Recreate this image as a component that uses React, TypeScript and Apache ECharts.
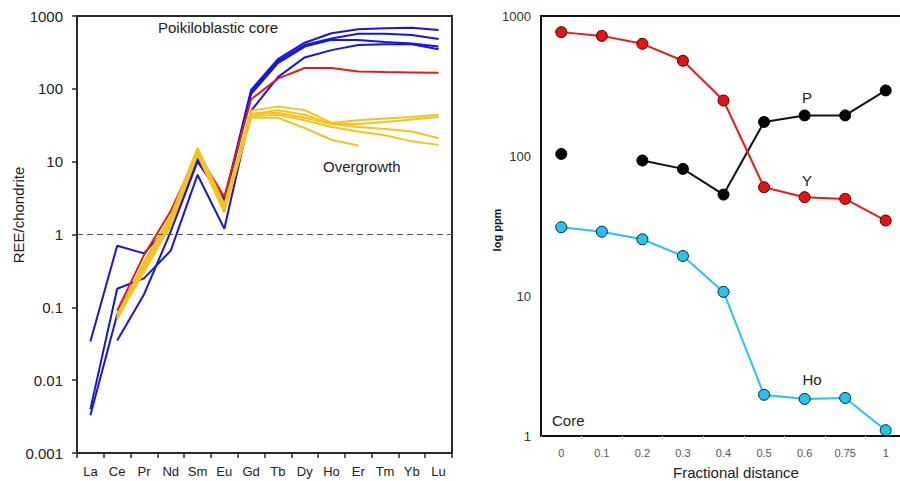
import React, { useEffect, useRef } from "react";
import * as echarts from "echarts";

const reeCategories = ["La", "Ce", "Pr", "Nd", "Sm", "Eu", "Gd", "Tb", "Dy", "Ho", "Er", "Tm", "Yb", "Lu"];

const blue1 = [0.034, 0.7, 0.55, 1.4, 11, 3.0, 97, 255, 430, 580, 660, 680, 690, 643];
const blue2 = [0.004, 0.18, 0.25, 0.6, 6.6, 1.2, 50, 145, 270, 340, 400, 410, 410, 350];
const blue3 = [0.0033, 0.08, 0.4, 1.3, 10.5, 2.8, 90, 240, 400, 490, 570, 570, 550, 484];
const blue4 = [null, 0.035, 0.15, 1.1, 10, 2.9, 85, 225, 380, 470, 470, 440, 420, 380];
const redRee = [null, 0.09, 0.52, 2.1, 13, 3.3, 72, 138, 193, 193, 173, 170, 168, 166];
const yellow1 = [null, 0.075, 0.42, 1.8, 15.5, 2.6, 50, 57, 51, 34, 37, 39, 41, 44];
const yellow2 = [null, 0.07, 0.38, 1.6, 14.5, 2.4, 45, 51, 44, 33, 33, 35, 38, 41];
const yellow3 = [null, 0.068, 0.34, 1.5, 14, 2.2, 45, 47, 40, 33, 30, 28, 26, 21];
const yellow4 = [null, 0.072, 0.3, 1.4, 13, 2.1, 42, 44, 37, 30, 26, 23, 19, 17];
const yellow5 = [null, 0.08, 0.36, 1.3, 12.5, 2.0, 40, 40, 29, 20, 16.7, null, null, null];

const leftTickLabels = ["0.001", "0.01", "0.1", "1", "10", "100", "1000"];

const distanceCategories = ["0", "0.1", "0.2", "0.3", "0.4", "0.5", "0.6", "0.75", "1"];
const yValues = [767, 721, 633, 479, 249, 59.8, 50.8, 49.4, 34.6];
const pValues = [103.5, null, 92.8, 80.9, 53, 175, 195, 195, 294];
const hoValues = [31, 28.8, 25.4, 19.3, 10.7, 1.97, 1.84, 1.87, 1.1];

const rightTickLabels = ["1", "10", "100", "1000"];

const FONT = "'Liberation Sans', Arial, Helvetica, sans-serif";
const BLUE = "#1616dc";
const RED = "#e31b1b";
const GOLD = "#f7c21d";

export default function App() {
  const ref = useRef<HTMLDivElement>(null);
  useEffect(() => {
    document.body.style.margin = "0";
    document.body.style.overflow = "hidden";
    const chart = echarts.init(ref.current!, undefined, { renderer: "svg" });

    const lineSeries = (data: (number | null)[], color: string, extra: any = {}) => ({
      type: "line",
      xAxisIndex: 0,
      yAxisIndex: 0,
      data,
      showSymbol: false,
      symbol: "none",
      lineStyle: { color, width: 2 },
      itemStyle: { color },
      silent: true,
      ...extra,
    });

    const logLabel = (labels: string[], offset: number) => (v: number) => {
      const i = Math.round(Math.log10(v)) + offset;
      return labels[i] ?? "";
    };

    const option: any = {
      animation: false,
      textStyle: { fontFamily: FONT },
      grid: [
        { left: 77, top: 16, width: 375, height: 437, show: true, borderColor: "#2a2a2a", borderWidth: 2 },
        { left: 541, top: 16, width: 365, height: 420, show: true, borderColor: "#111", borderWidth: 2 },
      ],
      xAxis: [
        {
          gridIndex: 0,
          type: "category",
          data: reeCategories,
          boundaryGap: true,
          axisLine: { lineStyle: { color: "#2a2a2a", width: 2 } },
          axisTick: { show: true, length: 5, lineStyle: { color: "#2a2a2a", width: 1.5 } },
          axisLabel: { color: "#222", fontSize: 13, margin: 12, fontFamily: FONT, interval: 0 },
          splitLine: { show: false },
        },
        {
          gridIndex: 1,
          type: "category",
          data: distanceCategories,
          boundaryGap: true,
          axisLine: { lineStyle: { color: "#111", width: 2 } },
          axisTick: { show: true, length: 3, lineStyle: { color: "#ddd", width: 1 } },
          axisLabel: { color: "#555", fontSize: 11, margin: 11, fontFamily: FONT, interval: 0 },
          splitLine: { show: false },
        },
      ],
      yAxis: [
        {
          gridIndex: 0,
          type: "log",
          logBase: 10,
          min: 0.001,
          max: 1000,
          axisLine: { show: true, lineStyle: { color: "#2a2a2a", width: 2 } },
          axisTick: { show: true, length: 5, lineStyle: { color: "#2a2a2a", width: 1.5 } },
          axisLabel: { color: "#222", fontSize: 15, margin: 14, fontFamily: FONT, formatter: logLabel(leftTickLabels, 3) },
          splitLine: { show: false },
          minorTick: { show: false },
        },
        {
          gridIndex: 1,
          type: "log",
          logBase: 10,
          min: 1,
          max: 1000,
          axisLine: { show: true, lineStyle: { color: "#111", width: 2 } },
          axisTick: { show: false },
          axisLabel: { color: "#333", fontSize: 13, margin: 10, fontFamily: FONT, formatter: logLabel(rightTickLabels, 0) },
          splitLine: { show: false },
        },
      ],
      series: [
        lineSeries(blue1, BLUE, {
          markLine: {
            silent: true,
            symbol: "none",
            label: { show: false },
            lineStyle: { color: "#555", width: 1, type: [6, 4] },
            data: [{ yAxis: 1 }],
          },
        }),
        lineSeries(blue2, BLUE),
        lineSeries(blue3, BLUE),
        lineSeries(blue4, BLUE),
        lineSeries(redRee, RED),
        lineSeries(yellow1, GOLD),
        lineSeries(yellow2, GOLD),
        lineSeries(yellow3, GOLD),
        lineSeries(yellow4, GOLD),
        lineSeries(yellow5, GOLD),
        {
          type: "line",
          xAxisIndex: 1,
          yAxisIndex: 1,
          data: hoValues,
          symbol: "circle",
          symbolSize: 11,
          lineStyle: { color: "#26c3ee", width: 2 },
          itemStyle: { color: "#22c4f0", borderColor: "#1a1a1a", borderWidth: 1 },
        },
        {
          type: "line",
          xAxisIndex: 1,
          yAxisIndex: 1,
          data: pValues,
          connectNulls: false,
          symbol: "circle",
          symbolSize: 11,
          lineStyle: { color: "#111", width: 2 },
          itemStyle: { color: "#050505", borderColor: "#000", borderWidth: 1 },
        },
        {
          type: "line",
          xAxisIndex: 1,
          yAxisIndex: 1,
          data: yValues,
          symbol: "circle",
          symbolSize: 11,
          lineStyle: { color: "#e61c1c", width: 2 },
          itemStyle: { color: "#ee1010", borderColor: "#2a0a0a", borderWidth: 1 },
        },
      ],
      graphic: [
        { type: "text", x: 18, y: 215, rotation: Math.PI / 2, style: { text: "REE/chondrite", font: `15px ${FONT}`, fill: "#222", textAlign: "center", textVerticalAlign: "middle" } },
        { type: "text", x: 158, y: 27, style: { text: "Poikiloblastic core", font: `15px ${FONT}`, fill: "#222", textAlign: "left", textVerticalAlign: "middle" } },
        { type: "text", x: 323, y: 166, style: { text: "Overgrowth", font: `15px ${FONT}`, fill: "#222", textAlign: "left", textVerticalAlign: "middle" } },
        { type: "text", x: 497, y: 230, rotation: Math.PI / 2, style: { text: "log ppm", font: `bold 11px ${FONT}`, fill: "#111", textAlign: "center", textVerticalAlign: "middle" } },
        { type: "text", x: 736, y: 472, style: { text: "Fractional distance", font: `15px ${FONT}`, fill: "#222", textAlign: "center", textVerticalAlign: "middle" } },
        { type: "text", x: 807, y: 97, style: { text: "P", font: `15px ${FONT}`, fill: "#222", textAlign: "center", textVerticalAlign: "middle" } },
        { type: "text", x: 807, y: 180, style: { text: "Y", font: `15px ${FONT}`, fill: "#222", textAlign: "center", textVerticalAlign: "middle" } },
        { type: "text", x: 812, y: 379, style: { text: "Ho", font: `15px ${FONT}`, fill: "#222", textAlign: "center", textVerticalAlign: "middle" } },
        { type: "text", x: 552, y: 420, style: { text: "Core", font: `15px ${FONT}`, fill: "#222", textAlign: "left", textVerticalAlign: "middle" } },
      ],
    };
    chart.setOption(option);
    return () => chart.dispose();
  }, []);
  return (
    <div style={{ width: 900, height: 481, overflow: "hidden", position: "relative" }}>
      <div ref={ref} style={{ width: 910, height: 481 }} />
    </div>
  );
}
